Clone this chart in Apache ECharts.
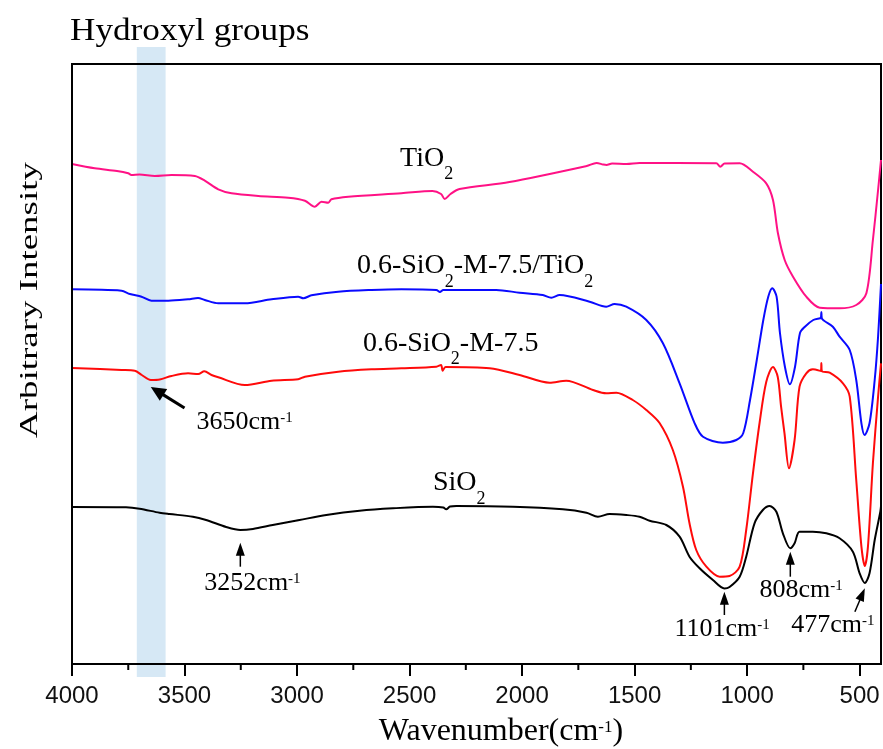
<!DOCTYPE html>
<html>
<head>
<meta charset="utf-8">
<script src="https://cdn.jsdelivr.net/npm/echarts@6/dist/echarts.min.js"></script>
<style>
html, body { margin: 0; padding: 0; background: #fff; }
#chart { width: 883px; height: 749px; }
</style>
</head>
<body>
<div id="chart"></div>
<script>
// Axis ticks (wavenumber, cm-1)
const majorTicks = [4000, 3500, 3000, 2500, 2000, 1500, 1000, 500];
const minorTicks = [3750, 3250, 2750, 2250, 1750, 1250, 750];
const tickLabels = ['4000', '3500', '3000', '2500', '2000', '1500', '1000', '500'];

// O-H stretching region highlighted on the plot
const hydroxylBand = [3712, 3584];

// FTIR spectra: [wavenumber, arbitrary intensity], offset vertically
const tio2 = [
  [4000, 500], [3899, 495.7], [3800, 493], [3750, 490.7], [3736, 489], [3700, 489.5],
  [3632, 488], [3558, 489], [3454, 488], [3410, 483.3], [3350, 474.7], [3291, 470.7],
  [3172, 468], [3039, 466.3], [2965, 463.3], [2921, 457.3], [2891, 462.3], [2861, 461.3],
  [2847, 464.7], [2772, 467.3], [2536, 470.7], [2398, 473], [2360, 470], [2344, 465],
  [2318, 470], [2278, 475], [2056, 482], [1713, 498], [1669, 501], [1640, 499.5],
  [1625, 499], [1600, 500.5], [1536, 500], [1478, 501], [1137, 500.7], [1119, 497.3],
  [1100, 500.5], [1033, 500.7], [974, 492.3], [915, 480.7], [885, 464], [863, 430.7],
  [833, 404], [796, 387.3], [737, 367.3], [677, 356.3], [589, 355.7], [515, 359],
  [470, 370.7], [441, 424], [418, 474], [405, 504]
];

const sio2M75TiO2 = [
  [4000, 374.7], [3780, 373.3], [3743, 370], [3691, 367.3], [3647, 363.3], [3572, 363.3],
  [3484, 364.7], [3440, 366], [3410, 364], [3350, 360.7], [3232, 360.7], [3113, 364.7],
  [2995, 367.3], [2972, 365.7], [2936, 368.7], [2817, 372.3], [2669, 374], [2536, 374.7],
  [2381, 374], [2365, 372], [2350, 374], [2115, 374], [2011, 371.3], [1908, 369],
  [1870, 366.3], [1833, 369], [1700, 362.3], [1626, 357.3], [1589, 360], [1537, 357.3],
  [1448, 344], [1374, 320.7], [1300, 280.7], [1233, 240.7], [1196, 227.3], [1108, 221.3],
  [1048, 224], [1017, 231], [987, 264], [957, 304], [928, 344], [906, 367.3],
  [888, 375.7], [869, 367.3], [854, 331], [832, 297.3], [810, 279.7], [787, 297.3],
  [765, 331], [743, 337.3], [706, 344], [676, 345.7], [672, 346], [670, 352],
  [668, 345.7], [619, 337.3], [589, 327.3], [544, 314], [515, 284], [492, 240.7],
  [478, 229], [456, 240.7], [433, 284], [418, 327.3], [405, 380]
];

const sio2M75 = [
  [4000, 296], [3780, 294], [3721, 293.3], [3690, 289], [3650, 284], [3610, 284.5],
  [3558, 288], [3484, 290.7], [3439, 290], [3412, 292.7], [3380, 289], [3350, 286.7],
  [3232, 279], [3113, 283.3], [2995, 284.7], [2965, 287.3], [2817, 292.3], [2669, 294.7],
  [2536, 295.7], [2381, 297.3], [2360, 299], [2353, 293.3], [2340, 297], [2144, 295.7],
  [2011, 289], [1878, 281.3], [1804, 283.3], [1685, 274], [1626, 270.7], [1581, 271.3],
  [1508, 264], [1448, 254], [1389, 241], [1330, 214], [1285, 177.3], [1256, 140.7],
  [1226, 114], [1181, 97.3], [1122, 87.3], [1078, 88], [1033, 97.3], [1004, 134],
  [974, 190.7], [944, 242], [915, 282], [885, 297], [864, 287.3], [849, 257.3],
  [834, 231], [814, 195.7], [789, 224], [767, 277.3], [737, 290.7], [708, 294.7],
  [672, 293], [670, 301], [668, 293], [633, 291.3], [574, 280.7], [544, 267.3],
  [515, 184], [492, 117.3], [477, 98], [463, 117.3], [441, 200.7], [418, 267.3],
  [405, 300.7]
];

const sio2 = [
  [4000, 157], [3760, 156.7], [3700, 155.3], [3611, 151.3], [3567, 150], [3463, 147.3],
  [3404, 144], [3315, 137], [3252, 134], [3196, 135], [3108, 139], [2989, 144],
  [2870, 149], [2722, 153.3], [2574, 155.7], [2396, 157.3], [2350, 156.5], [2337, 154.7],
  [2320, 157.5], [2292, 158], [2041, 157.3], [1819, 154.7], [1714, 151.3], [1663, 147.3],
  [1611, 150], [1537, 149], [1478, 147.3], [1433, 143.3], [1359, 139], [1300, 127.3],
  [1256, 107.3], [1211, 95.7], [1152, 84], [1101, 75.5], [1078, 77], [1033, 87.3],
  [1004, 107.3], [967, 140.7], [930, 154], [900, 158], [870, 152.3], [841, 130.7],
  [808, 115.7], [789, 120.7], [767, 132.3], [708, 132.3], [648, 130.7], [589, 125.7],
  [530, 112.3], [500, 90.7], [477, 81], [456, 90.7], [433, 124], [408, 152.3], [405, 158]
];

const seriesNames = ['TiO2', '0.6-SiO2-M-7.5/TiO2', '0.6-SiO2-M-7.5', 'SiO2'];
const seriesData = [tio2, sio2M75TiO2, sio2M75, sio2];
const seriesColors = ['#ff1185', '#0a0aff', '#ff0a0a', '#000000'];

// Curve labels (rich text with subscripts), anchored in data units at their left edge
const curveLabels = [
  { text: '{m|TiO}{s|2}', at: [2542, 505.7] },
  { text: '{m|0.6-SiO}{s|2}{m|-M-7.5/TiO}{s|2}', at: [2734, 398] },
  { text: '{m|0.6-SiO}{s|2}{m|-M-7.5}', at: [2707, 320.7] },
  { text: '{m|SiO}{s|2}', at: [2396, 181] }
];

// Band peak annotations: arrow tip/tail and label centre, in data units
const peakNotes = [
  { wn: '3650', tip: [3650, 277], tail: [3500, 256], at: [3233, 242.3], heavy: true },
  { wn: '3252', tip: [3252, 121.3], tail: [3252, 97.3], at: [3198, 81] },
  { wn: '1101', tip: [1101, 72.3], tail: [1101, 49], at: [1111, 35] },
  { wn: '808', tip: [808, 112.3], tail: [808, 87.3], at: [760, 74] },
  { wn: '477', tip: [477, 75.7], tail: [521, 52.3], at: [619, 39] }
];

const SERIF = "'Liberation Serif', 'Times New Roman', serif";
const SANS = "'Liberation Sans', Arial, sans-serif";

const chart = echarts.init(document.getElementById('chart'), null, { renderer: 'canvas' });

const option = {
  animation: false,
  backgroundColor: '#fff',
  grid: {
    left: 72, right: 2, top: 64, bottom: 85,
    show: true, borderColor: '#000', borderWidth: 2, backgroundColor: 'transparent'
  },
  xAxis: {
    type: 'value', min: 405, max: 4000, inverse: true, z: 3,
    axisLine: { show: true, lineStyle: { color: '#000', width: 2 } },
    axisTick: { show: true, inside: false, length: 12, customValues: majorTicks, lineStyle: { color: '#000', width: 2 } },
    axisLabel: {
      show: true, customValues: majorTicks, margin: 20,
      formatter: v => tickLabels[majorTicks.indexOf(v)],
      fontFamily: SANS, fontSize: 24, color: '#111'
    },
    splitLine: { show: false }
  },
  yAxis: {
    type: 'value', min: 0, max: 600, z: 3,
    axisLine: { show: true, lineStyle: { color: '#000', width: 2 } },
    axisTick: { show: false },
    axisLabel: { show: false },
    splitLine: { show: false }
  },
  series: seriesData.map((d, i) => ({
    name: seriesNames[i],
    type: 'line',
    data: d,
    showSymbol: false,
    smooth: 0.3,
    lineStyle: { color: seriesColors[i], width: 2 },
    z: 2
  }))
};

chart.setOption(option);

function px(p) { return chart.convertToPixel({ seriesIndex: 0 }, p); }

const graphics = [];

// Hydroxyl band, running slightly past the plot frame
const b0 = px([hydroxylBand[0], 617]);
const b1 = px([hydroxylBand[1], -13]);
graphics.push({
  type: 'rect', z: -1,
  shape: { x: b0[0], y: b0[1], width: b1[0] - b0[0], height: b1[1] - b0[1] },
  style: { fill: '#d6e8f5' }
});

// Short minor ticks between the labelled ones
minorTicks.forEach(v => {
  const p = px([v, 0]);
  graphics.push({
    type: 'line', z: 4,
    shape: { x1: p[0], y1: p[1], x2: p[0], y2: p[1] + 6 },
    style: { stroke: '#000', lineWidth: 2 }
  });
});

// Band caption
const cap = px([4009, 632.8]);
graphics.push({
  type: 'text', x: cap[0], y: cap[1], scaleX: 1.1, originX: 0, originY: 0,
  style: {
    text: 'Hydroxyl groups', font: '32px ' + SERIF, fill: '#000',
    textAlign: 'left', textVerticalAlign: 'middle', align: 'left', verticalAlign: 'middle'
  }
});

// Curve labels
curveLabels.forEach(l => {
  const p = px(l.at);
  graphics.push({
    type: 'text', x: p[0], y: p[1],
    style: {
      text: l.text, fill: '#000',
      textAlign: 'left', textVerticalAlign: 'middle', align: 'left', verticalAlign: 'middle',
      rich: {
        m: { fontFamily: SERIF, fontSize: 28, lineHeight: 50, color: '#000' },
        s: { fontFamily: SERIF, fontSize: 18, lineHeight: 18, verticalAlign: 'bottom', color: '#000' }
      }
    }
  });
});

// Peak arrows and labels
peakNotes.forEach(n => {
  const tip = px(n.tip);
  const tail = px(n.tail);
  const dx = tip[0] - tail[0], dy = tip[1] - tail[1];
  const len = Math.sqrt(dx * dx + dy * dy);
  const ux = dx / len, uy = dy / len;
  const H = n.heavy ? 15 : 13, W = n.heavy ? 7 : 4.5;
  const bx = tip[0] - H * ux, by = tip[1] - H * uy;
  graphics.push({
    type: 'line', z: 5,
    shape: { x1: tail[0], y1: tail[1], x2: bx + ux * 2, y2: by + uy * 2 },
    style: { stroke: '#000', lineWidth: n.heavy ? 3 : 1.5 }
  });
  graphics.push({
    type: 'polygon', z: 5,
    shape: { points: [[tip[0], tip[1]], [bx - W * uy, by + W * ux], [bx + W * uy, by - W * ux]] },
    style: { fill: '#000' }
  });
  const t = px(n.at);
  graphics.push({
    type: 'text', x: t[0], y: t[1], z: 5,
    style: {
      text: '{n|' + n.wn + 'cm}{p|-1}', fill: '#000',
      textAlign: 'center', textVerticalAlign: 'middle', align: 'center', verticalAlign: 'middle',
      rich: {
        n: { fontFamily: SERIF, fontSize: 26, lineHeight: 22, color: '#000' },
        p: { fontFamily: SERIF, fontSize: 15, lineHeight: 15, verticalAlign: 'top', color: '#000' }
      }
    }
  });
});

// Axis titles
graphics.push({
  type: 'text', x: 501, y: 731.7,
  style: {
    text: '{m|Wavenumber(cm}{p|-1}{m|)}', fill: '#000',
    textAlign: 'center', textVerticalAlign: 'middle', align: 'center', verticalAlign: 'middle',
    rich: {
      m: { fontFamily: SERIF, fontSize: 32, lineHeight: 26, color: '#000' },
      p: { fontFamily: SERIF, fontSize: 17, lineHeight: 17, verticalAlign: 'top', color: '#000' }
    }
  }
});
graphics.push({
  type: 'text', x: 30, y: 300, rotation: Math.PI / 2, scaleX: 1.42, originX: 0, originY: 0,
  style: {
    text: 'Arbitrary Intensity', font: '26px ' + SERIF, fill: '#000',
    textAlign: 'center', textVerticalAlign: 'middle', align: 'center', verticalAlign: 'middle'
  }
});

chart.setOption({ graphic: { elements: graphics } });
</script>
</body>
</html>
